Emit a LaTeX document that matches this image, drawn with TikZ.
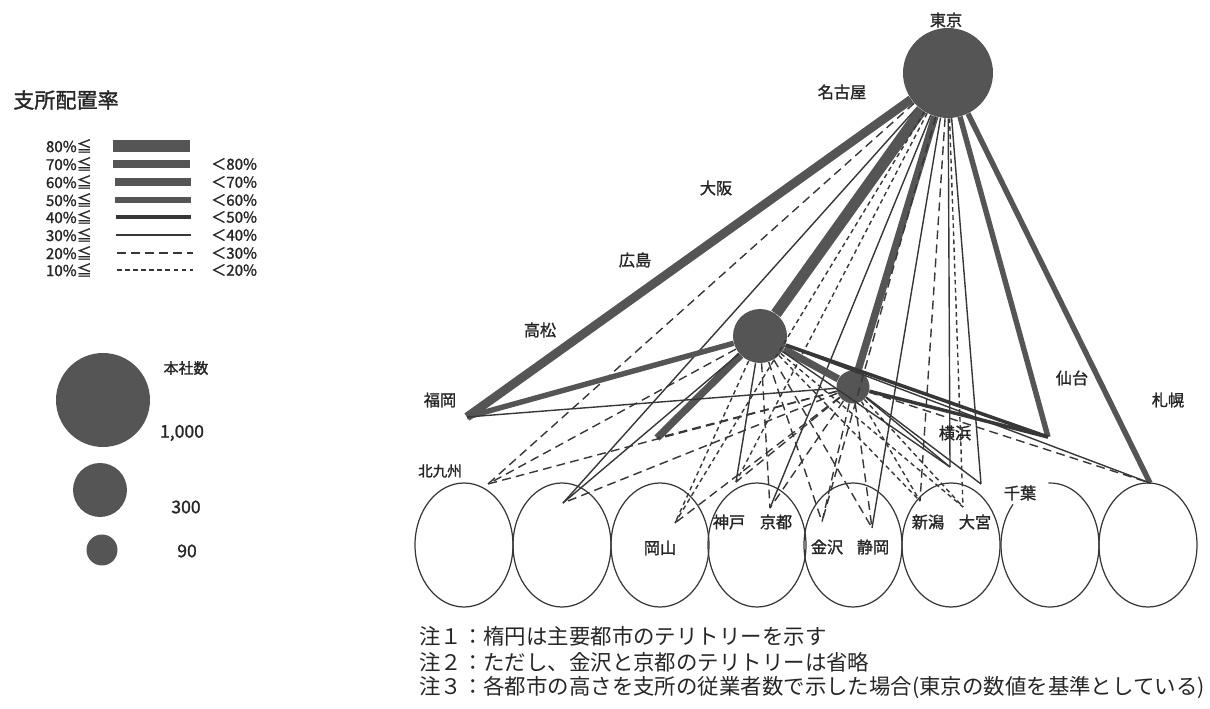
\documentclass[tikz,border=0pt]{standalone}
\usepackage{fontspec}
\setmainfont{Noto Sans CJK JP}
\newfontfamily\cjkbold[FakeBold=1.4]{Noto Sans CJK JP}
\usetikzlibrary{positioning}

\definecolor{ink}{RGB}{85,85,85}
\definecolor{lineink}{RGB}{55,55,55}

\tikzset{
  r80/.style={draw=ink, line width=6.4pt},
  r70/.style={draw=ink, line width=5pt},
  r60/.style={draw=ink, line width=4.2pt},
  r50/.style={draw=ink, line width=3.1pt},
  r40/.style={draw=lineink, line width=2pt},
  r30/.style={draw=lineink, line width=0.8pt},
  r20/.style={draw=lineink, line width=0.8pt, dash pattern=on 5pt off 3pt},
  r10/.style={draw=lineink, line width=0.8pt, dash pattern=on 2.6pt off 2pt},
  hub/.style={circle, fill=ink, inner sep=0pt},
  city/.style={font=\cjkbold\fontsize{9.2}{10}\selectfont, text=black!85},
  legtext/.style={font=\cjkbold\fontsize{8.6}{9}\selectfont, text=black!85},
  note/.style={font=\fontsize{12.2}{13}\selectfont, text=black!85, anchor=west},
  area/.style={draw=lineink, line width=0.7pt},
}

\begin{document}
\begin{tikzpicture}[x=0.02cm, y=-0.02cm]
  \useasboundingbox (0,0) rectangle (1210,709);

  % legend: rate of branch placement
  \node[font=\cjkbold\fontsize{12}{13}\selectfont, text=black!85] (legtitle) at (66,100) {支所配置率};

  \node[legtext, anchor=east] (lo80) at (98,146) {80\%≦};
  \node[legtext, anchor=east] (lo70) at (98,164) {70\%≦};
  \node[legtext, anchor=east] (lo60) at (98,182) {60\%≦};
  \node[legtext, anchor=east] (lo50) at (98,200) {50\%≦};
  \node[legtext, anchor=east] (lo40) at (98,217) {40\%≦};
  \node[legtext, anchor=east] (lo30) at (98,235) {30\%≦};
  \node[legtext, anchor=east] (lo20) at (98,253) {20\%≦};
  \node[legtext, anchor=east] (lo10) at (98,270) {10\%≦};

  \node[legtext, anchor=west] (hi70) at (205,164) {＜80\%};
  \node[legtext, anchor=west] (hi60) at (205,182) {＜70\%};
  \node[legtext, anchor=west] (hi50) at (205,200) {＜60\%};
  \node[legtext, anchor=west] (hi40) at (205,217) {＜50\%};
  \node[legtext, anchor=west] (hi30) at (205,235) {＜40\%};
  \node[legtext, anchor=west] (hi20) at (205,253) {＜30\%};
  \node[legtext, anchor=west] (hi10) at (205,270) {＜20\%};

  \coordinate (b80a) at (113,146); \coordinate (b80b) at (190,146);
  \coordinate (b70a) at (113,164); \coordinate (b70b) at (190,164);
  \coordinate (b60a) at (115,182); \coordinate (b60b) at (191,182);
  \coordinate (b50a) at (115,200); \coordinate (b50b) at (191,200);
  \coordinate (b40a) at (116,217); \coordinate (b40b) at (191,217);
  \coordinate (b30a) at (116,235); \coordinate (b30b) at (191,235);
  \coordinate (b20a) at (117,253); \coordinate (b20b) at (193,253);
  \coordinate (b10a) at (117,270); \coordinate (b10b) at (193,270);
  \draw[r80] (b80a) -- (b80b);
  \draw[r70] (b70a) -- (b70b);
  \draw[r60] (b60a) -- (b60b);
  \draw[r50] (b50a) -- (b50b);
  \draw[r40] (b40a) -- (b40b);
  \draw[r30] (b30a) -- (b30b);
  \draw[r20] (b20a) -- (b20b);
  \draw[r10] (b10a) -- (b10b);

  % legend: number of head offices
  \node[hub, minimum size=1.88cm] (hq1000) at (103,400) {};
  \node[hub, minimum size=1.08cm] (hq300) at (100,490) {};
  \node[hub, minimum size=0.62cm] (hq90) at (102,550) {};
  \node[legtext, font=\cjkbold\fontsize{8.5}{9}\selectfont] (hqtitle) at (186,368) {本社数};
  \node[legtext, font=\cjkbold\fontsize{10}{11}\selectfont] (n1000) at (182,433) {1,000};
  \node[legtext, font=\cjkbold\fontsize{10}{11}\selectfont] (n300) at (186,507) {300};
  \node[legtext, font=\cjkbold\fontsize{10}{11}\selectfont] (n90) at (187,551) {90};

  % territories
  \draw[area] (464,545) ellipse[x radius=49, y radius=62];
  \draw[area] (562,545) ellipse[x radius=49, y radius=62];
  \draw[area] (660,545) ellipse[x radius=49, y radius=62];
  \draw[area] (757,545) ellipse[x radius=49, y radius=62];
  \draw[area] (853,545) ellipse[x radius=49, y radius=62];
  \draw[area] (951,545) ellipse[x radius=49, y radius=62];
  \draw[area] (1050,545) ++(268:49 and 62) arc[start angle=268, end angle=581, x radius=49, y radius=62];
  \draw[area] (1148,545) ellipse[x radius=49, y radius=62];

  % hubs
  \node[hub, minimum size=1.8cm] (tokyo) at (948,73) {};
  \node[hub, minimum size=1.08cm] (osaka) at (760,336) {};
  \node[hub, minimum size=0.66cm] (nagoya) at (853,387) {};

  % branch cities
  \coordinate (fukuoka) at (467,417);
  \coordinate (kitakyushu) at (488,484);
  \coordinate (hiroshima) at (563,503);
  \coordinate (takamatsu) at (657,438);
  \coordinate (okayama) at (675,523);
  \coordinate (kobe) at (736,482);
  \coordinate (kyoto) at (770,508);
  \coordinate (kanazawa) at (822,522);
  \coordinate (shizuoka) at (872,528);
  \coordinate (niigata) at (920,501);
  \coordinate (omiya) at (963,507);
  \coordinate (yokohama) at (950,467);
  \coordinate (chiba) at (981,484);
  \coordinate (sendai) at (1048,437);
  \coordinate (sapporo) at (1150,483);

  % from Tokyo
  \draw[r70] (tokyo) -- (fukuoka);
  \draw[r20] (tokyo) -- (kitakyushu);
  \draw[r30] (tokyo) -- (hiroshima);
  \draw[r80] (tokyo) -- (osaka);
  \draw[r10] (tokyo) -- (okayama);
  \draw[r10] (tokyo) -- (kobe);
  \draw[r30] (tokyo) -- (kyoto);
  \draw[r60] (tokyo) -- (nagoya);
  \draw[r20] (tokyo) -- (kanazawa);
  \draw[r30] (tokyo) -- (shizuoka);
  \draw[r20] (tokyo) -- (niigata);
  \draw[r30] (tokyo) -- (yokohama);
  \draw[r10] (tokyo) -- (omiya);
  \draw[r30] (tokyo) -- (chiba);
  \draw[r50] (tokyo) -- (sendai);
  \draw[r50] (tokyo) -- (sapporo);

  % from Osaka
  \draw[r50] (osaka) -- (fukuoka);
  \draw[r60] (osaka) -- (takamatsu);
  \draw[r30] (osaka) -- (hiroshima);
  \draw[r20] (osaka) -- (kitakyushu);
  \draw[r60] (osaka) -- (nagoya);
  \draw[r40] (osaka) -- (sendai);
  \draw[r10] (osaka) -- (okayama);
  \draw[r30] (osaka) -- (kobe);
  \draw[r20] (osaka) -- (kyoto);
  \draw[r20] (osaka) -- (kanazawa);
  \draw[r20] (osaka) -- (shizuoka);
  \draw[r10] (osaka) -- (niigata);
  \draw[r10] (osaka) -- (omiya);
  \draw[r30] (osaka) -- (yokohama);
  \draw[r30] (osaka) -- (sapporo);

  % from Nagoya
  \draw[r30] (nagoya) -- (fukuoka);
  \draw[r20] (nagoya) -- (takamatsu);
  \draw[r20] (nagoya) -- (kitakyushu);
  \draw[r20] (nagoya) -- (hiroshima);
  \draw[r20] (nagoya) -- (okayama);
  \draw[r20] (nagoya) -- (kobe);
  \draw[r20] (nagoya) -- (kyoto);
  \draw[r20] (nagoya) -- (kanazawa);
  \draw[r20] (nagoya) -- (shizuoka);
  \draw[r10] (nagoya) -- (niigata);
  \draw[r10] (nagoya) -- (omiya);
  \draw[r30] (nagoya) -- (yokohama);
  \draw[r30] (nagoya) -- (chiba);
  \draw[r40] (nagoya) -- (sendai);
  \draw[r20] (nagoya) -- (sapporo);

  % city labels
  \node[city] (lbtokyo) at (946,20) {東京};
  \node[city] (lbnagoya) at (842,92) {名古屋};
  \node[city] (lbosaka) at (716,188) {大阪};
  \node[city] (lbhiroshima) at (635,260) {広島};
  \node[city] (lbtakamatsu) at (540,330) {高松};
  \node[city] (lbfukuoka) at (440,400) {福岡};
  \node[city] (lbsendai) at (1072,378) {仙台};
  \node[city] (lbsapporo) at (1168,400) {札幌};
  \node[city] (lbyokohama) at (955,433) {横浜};
  \node[city, font=\cjkbold\fontsize{8.3}{9}\selectfont] (lbkitakyushu) at (440,471) {北九州};
  \node[city] (lbchiba) at (1020,493) {千葉};
  \node[city] (lbokayama) at (660,548) {岡山};
  \node[city] (lbkobe) at (729,522) {神戸};
  \node[city] (lbkyoto) at (776,522) {京都};
  \node[city] (lbkanazawa) at (827,547) {金沢};
  \node[city] (lbshizuoka) at (873,547) {静岡};
  \node[city] (lbniigata) at (928,522) {新潟};
  \node[city] (lbomiya) at (975,522) {大宮};

  % notes
  \node[note] (note1) at (413,636) {注１：楕円は主要都市のテリトリーを示す};
  \node[note] (note2) at (413,662) {注２：ただし、金沢と京都のテリトリーは省略};
  \node[note] (note3) at (413,688) {注３：各都市の高さを支所の従業者数で示した場合(東京の数値を基準としている)};
\end{tikzpicture}
\end{document}
